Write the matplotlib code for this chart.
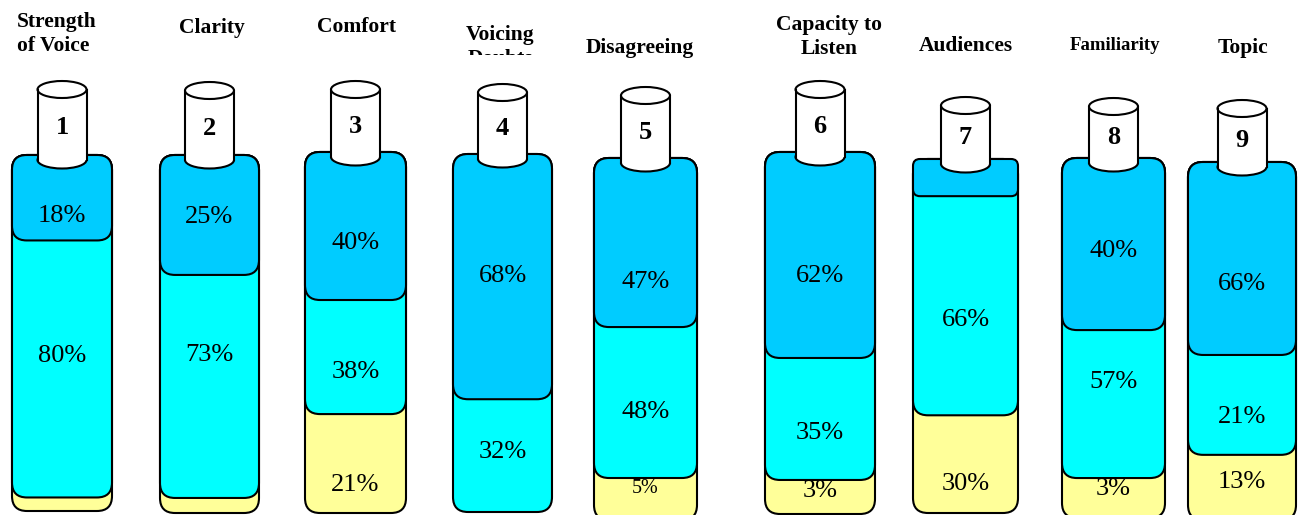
import matplotlib
matplotlib.use("Agg")
from matplotlib import pyplot as plt
from matplotlib.patches import FancyBboxPatch, Ellipse, Rectangle
from matplotlib.transforms import Bbox, TransformedBbox

# --- data -------------------------------------------------------------
titles = ["Strength\nof Voice", "Clarity", "Comfort", "Voicing\nDoubts", "Disagreeing",
          "Capacity to\nListen", "Audiences", "Familiarity", "Topic"]
numbers = ["1", "2", "3", "4", "5", "6", "7", "8", "9"]

# drawn height of each band (% of the bar)
blue_vals = [24.0, 33.5, 41.0, 68.5, 46.7, 56.9, 10.5, 47.8, 53.9]
cyan_vals = [72.2, 62.3, 31.6, 31.5, 41.7, 33.7, 61.9, 41.1, 27.9]
yellow_vals = [3.8, 4.2, 27.4, 0.0, 11.6, 9.4, 27.6, 11.1, 18.2]

blue_labels = ["18%", "25%", "40%", "68%", "47%", "62%", "", "40%", "66%"]
cyan_labels = ["80%", "73%", "38%", "32%", "48%", "35%", "66%", "57%", "21%"]
yellow_labels = ["", "", "21%", "", "5%", "3%", "30%", "3%", "13%"]

# --- layout (pixels) --------------------------------------------------
W, H = 1306, 515
bar_left = [12, 160, 305, 453, 594, 765, 913, 1062, 1188]
bar_right = [112, 259, 406, 552, 697, 875, 1018, 1165, 1296]
bar_top = [155, 155, 152, 154, 158, 152, 159, 158, 162]
bar_bottom = [511, 513, 513, 512, 520, 514, 513, 518, 520]
cap_top = [81, 82, 81, 84, 87, 81, 97, 98, 100]
title_x = [17, 212, 357, 500, 640, 829, 966, 1115, 1243]
title_y = [34, 28, 27, 47, 48, 37, 46, 46, 48]
title_size = [15.5, 15.5, 15.5, 15.5, 15.5, 15.5, 15.5, 13.5, 15.5]
# label offsets from the band middle, px downwards
blue_dy = [18, 2, 17, -1, 39, 21, 0, 7, 26]
cyan_dy = [-13, -31, 15, -4, 9, 14, 14, -22, 12]
yellow_dy = [0, 0, 21, 0, -11, -6, 20, -9, -5]
yellow_clip = [None, None, None, None, None, 500, None, None, None]

BLUE, CYAN, YELLOW = "#00CCFF", "#00FFFF", "#FFFF99"
SERIF = "Liberation Serif"
LW = 1.5
R_PX = 15

fig = plt.figure(figsize=(W / 100, H / 100), dpi=100)
fig.patch.set_facecolor("white")


def rounded(ax, y0, wpx, hpx, color):
    seg_px = (100 - y0) * hpx / 100
    r_px = min(R_PX, 0.16 * seg_px + 1) if seg_px < wpx else R_PX
    asp = 100 * wpx / hpx
    box = FancyBboxPatch((0, y0), 1, 100 - y0,
                         boxstyle="round,pad=0,rounding_size=%f" % (r_px / wpx),
                         mutation_aspect=asp, fc=color, ec="black", lw=LW, clip_on=False)
    ax.add_patch(box)


def seg_label(ax, lo, hi, hpx, text, dy, size=19):
    if not text:
        return None
    y = (lo + hi) / 2 - dy * 100 / hpx
    return ax.text(0.5, y, text, ha="center", va="center", fontsize=size,
                   family=SERIF, clip_on=False)


for i in range(len(titles)):
    l, r, t, b = bar_left[i], bar_right[i], bar_top[i], bar_bottom[i]
    wpx, hpx = r - l, b - t
    ax = fig.add_axes([l / W, 1 - b / H, wpx / W, hpx / H])
    ax.set_xlim(0, 1)
    ax.set_ylim(0, 100)
    ax.axis("off")

    y_cyan = yellow_vals[i]
    y_blue = yellow_vals[i] + cyan_vals[i]
    if yellow_vals[i] > 0:
        rounded(ax, 0, wpx, hpx, YELLOW)
    rounded(ax, y_cyan, wpx, hpx, CYAN)
    rounded(ax, y_blue, wpx, hpx, BLUE)

    small = 14.5 if yellow_labels[i] == "5%" else 19
    ytxt = seg_label(ax, 0, y_cyan, hpx, yellow_labels[i], yellow_dy[i], small)
    seg_label(ax, y_cyan, y_blue, hpx, cyan_labels[i], cyan_dy[i])
    seg_label(ax, y_blue, 100, hpx, blue_labels[i], blue_dy[i])
    if ytxt is not None and yellow_clip[i] is not None:
        ytxt.set_clip_on(True)
        ytxt.set_clip_box(Bbox([[0, H - yellow_clip[i]], [W, H]]))

# overlay in pixel coords for caps and titles
ov = fig.add_axes([0, 0, 1, 1])
ov.set_xlim(0, W)
ov.set_ylim(H, 0)
ov.axis("off")
ov.patch.set_visible(False)

for i in range(len(titles)):
    cx = (bar_left[i] + bar_right[i]) / 2
    cw, eh = 49, 17
    yt = cap_top[i] + eh / 2
    yb = bar_top[i] + 5
    ov.add_patch(Ellipse((cx, yb), cw, eh, fc="white", ec="black", lw=LW))
    ov.add_patch(Rectangle((cx - cw / 2, yt), cw, yb - yt, fc="white", ec="none"))
    ov.plot([cx - cw / 2, cx - cw / 2], [yt, yb], color="black", lw=LW)
    ov.plot([cx + cw / 2, cx + cw / 2], [yt, yb], color="black", lw=LW)
    ov.add_patch(Ellipse((cx, yt), cw, eh, fc="white", ec="black", lw=LW))
    ov.text(cx, (yt + yb) / 2 + 3, numbers[i], ha="center", va="center",
            fontsize=19, fontweight="bold", family=SERIF)

    ha = "left" if i == 0 else "center"
    txt = ov.text(title_x[i], title_y[i], titles[i], ha=ha, va="center",
                  fontsize=title_size[i], fontweight="bold", family=SERIF,
                  linespacing=1.3, multialignment=ha)
    if titles[i].startswith("Voicing"):
        txt.set_clip_on(True)
        txt.set_clip_box(TransformedBbox(Bbox([[400, 0], [600, 55]]), ov.transData))

fig.savefig("out.png", dpi=100)
